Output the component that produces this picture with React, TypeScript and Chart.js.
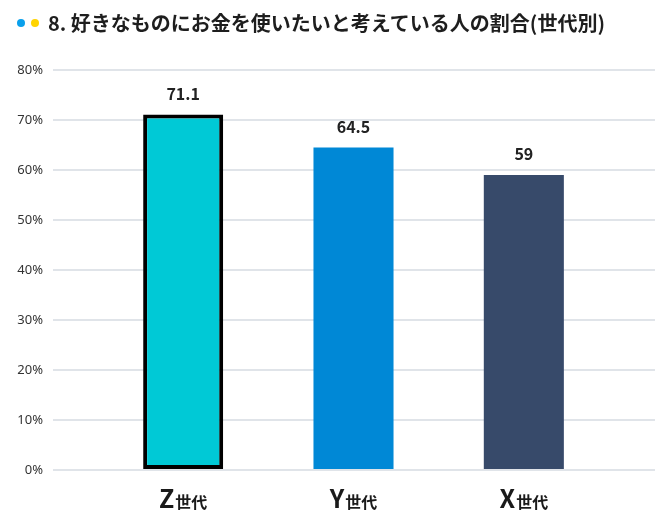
import { useEffect, useRef } from 'react'
import { Chart, registerables } from 'chart.js'
import type { Plugin } from 'chart.js'

Chart.register(...registerables)

const generations = ['Z世代', 'Y世代', 'X世代']
const shares = [71.1, 64.5, 59]
const barColors = ['#00c9d6', '#0088d6', '#374a6a']
const barBorders = [4, 0, 0]
const yMax = 80
const yStep = 10

const gridColor = '#e0e4e9'
const cjkFont = '"Noto Sans CJK JP", "Noto Sans", sans-serif'

// numbers above each bar
const valueLabels: Plugin<'bar'> = {
  id: 'valueLabels',
  afterDatasetsDraw(chart) {
    const ctx = chart.ctx
    const meta = chart.getDatasetMeta(0)
    ctx.save()
    ctx.font = `600 16px ${cjkFont}`
    ctx.fillStyle = '#222'
    ctx.textAlign = 'center'
    ctx.textBaseline = 'bottom'
    meta.data.forEach((bar, i) => {
      ctx.fillText(String(shares[i]), bar.x, bar.y - 13)
    })
    ctx.restore()
  },
}

// category labels: big latin letter + smaller 世代
const categoryLabels: Plugin<'bar'> = {
  id: 'categoryLabels',
  afterDraw(chart) {
    const ctx = chart.ctx
    const xs = chart.scales.x
    ctx.save()
    ctx.fillStyle = '#1a1a1a'
    ctx.textBaseline = 'alphabetic'
    ctx.textAlign = 'left'
    generations.forEach((label, i) => {
      const cx = xs.getPixelForValue(i)
      const head = label.slice(0, 1)
      const tail = label.slice(1)
      ctx.font = `bold 25px ${cjkFont}`
      const w1 = ctx.measureText(head).width
      ctx.font = `bold 16px ${cjkFont}`
      const w2 = ctx.measureText(tail).width
      const start = cx - (w1 + w2 + 1) / 2
      ctx.font = `bold 25px ${cjkFont}`
      ctx.fillText(head, start, 508)
      ctx.font = `bold 16px ${cjkFont}`
      ctx.fillText(tail, start + w1 + 1, 508)
    })
    ctx.restore()
  },
}

export default function App() {
  const chartRef = useRef<HTMLCanvasElement>(null)
  const chartInstanceRef = useRef<Chart | null>(null)

  useEffect(() => {
    if (!chartRef.current) return
    const ctx = chartRef.current.getContext('2d')
    if (!ctx) return

    if (chartInstanceRef.current) {
      chartInstanceRef.current.destroy()
    }

    chartInstanceRef.current = new Chart(ctx, {
      type: 'bar',
      data: {
        labels: generations,
        datasets: [
          {
            data: shares,
            backgroundColor: barColors,
            borderColor: '#000',
            borderWidth: barBorders,
            borderSkipped: false,
            categoryPercentage: 1,
            barPercentage: 0.47,
          },
        ],
      },
      options: {
        animation: false,
        responsive: true,
        maintainAspectRatio: false,
        layout: { padding: { top: 70, left: 8, right: 15, bottom: 54 } },
        plugins: {
          legend: { display: false },
          tooltip: { enabled: false },
        },
        scales: {
          x: {
            grid: { display: false },
            border: { display: false },
            ticks: { display: false },
            afterFit: (scale) => {
              scale.height = 0
            },
          },
          y: {
            position: 'left',
            min: 0,
            max: yMax,
            ticks: {
              stepSize: yStep,
              padding: 10,
              color: '#333',
              font: { family: '"Noto Sans", sans-serif', size: 13 },
              callback: (v) => `${v}%`,
            },
            grid: { color: gridColor, lineWidth: 2, tickLength: 45, drawTicks: true },
            border: { display: false },
            afterFit: (scale) => {
              scale.width = 90
            },
          },
          y2: {
            position: 'right',
            min: 0,
            max: yMax,
            ticks: { stepSize: yStep, display: false },
            grid: { color: gridColor, lineWidth: 2, tickLength: 46, drawTicks: true, drawOnChartArea: false },
            border: { display: false },
            afterFit: (scale) => {
              scale.width = 46
            },
          },
        },
      },
      plugins: [valueLabels, categoryLabels],
    })

    return () => {
      chartInstanceRef.current?.destroy()
      chartInstanceRef.current = null
    }
  }, [])

  return (
    <div style={{ position: 'fixed', left: 0, top: 0, width: 670, height: 524, background: '#fff' }}>
      <canvas ref={chartRef}></canvas>
      <div
        style={{
          position: 'absolute',
          left: 0,
          top: 11,
          height: 24,
          display: 'flex',
          alignItems: 'center',
          fontFamily: cjkFont,
          fontWeight: 700,
          fontSize: 20,
          lineHeight: '24px',
          color: '#1e1e1e',
        }}
      >
        <span style={{ display: 'inline-block', width: 8, height: 8, borderRadius: 4, background: '#0aa0ec', marginLeft: 17 }} />
        <span style={{ display: 'inline-block', width: 8, height: 8, borderRadius: 4, background: '#ffd400', marginLeft: 6 }} />
        <span style={{ marginLeft: 9 }}>8. 好きなものにお金を使いたいと考えている人の割合(世代別)</span>
      </div>
    </div>
  )
}
